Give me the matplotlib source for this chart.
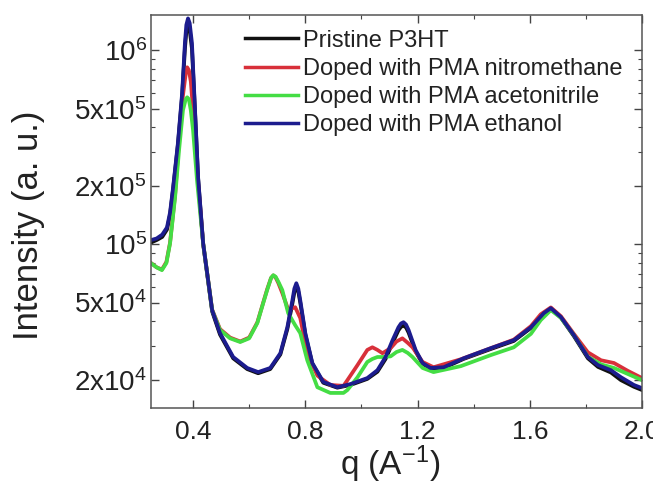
import matplotlib
matplotlib.use("Agg")
import matplotlib.pyplot as plt
from matplotlib.ticker import FixedLocator, NullFormatter, LogLocator, MultipleLocator

plt.rcParams['font.family'] = ['Liberation Sans', 'DejaVu Sans']
plt.rcParams['mathtext.fontset'] = 'custom'
plt.rcParams['mathtext.rm'] = 'Liberation Sans'
plt.rcParams['mathtext.it'] = 'Liberation Sans:italic'

# q grid for the pristine / ethanol scans
q_a = [0.25, 0.27, 0.29, 0.307, 0.318, 0.329, 0.346, 0.361, 0.371, 0.376, 0.382, 0.388,
       0.396, 0.407, 0.418, 0.436, 0.468, 0.496, 0.543, 0.593, 0.632, 0.675,
       0.711, 0.736, 0.754, 0.761, 0.768, 0.775, 0.782, 0.800, 0.825, 0.864,
       0.914, 0.961, 1.021, 1.057, 1.086, 1.111, 1.132, 1.141, 1.150, 1.159,
       1.168, 1.193, 1.218, 1.246, 1.293, 1.364, 1.461, 1.543, 1.604, 1.650,
       1.675, 1.711, 1.757, 1.807, 1.843, 1.889, 1.925, 1.971, 2.0]

# q grid for the nitromethane / acetonitrile scans
q_b = [0.25, 0.27, 0.289, 0.305, 0.318, 0.336, 0.35, 0.364, 0.374, 0.379,
       0.385, 0.392, 0.40, 0.414, 0.436, 0.468, 0.496, 0.532, 0.568, 0.60,
       0.629, 0.65, 0.664, 0.678, 0.686, 0.694, 0.704, 0.718, 0.739, 0.764,
       0.782, 0.807, 0.843, 0.889, 0.936, 0.95, 0.986, 1.021, 1.039, 1.057,
       1.075, 1.104, 1.125, 1.146, 1.165, 1.182, 1.218, 1.257, 1.354, 1.461,
       1.543, 1.604, 1.639, 1.675, 1.711, 1.757, 1.807, 1.854, 1.90, 1.95, 2.0]

i_pristine = [1.02e5, 1.05e5, 1.09e5, 1.19e5, 1.42e5, 1.93e5, 3.25e5, 5.8e5, 1.02e6, 1.25e6, 1.34e6, 1.27e6,
              1.02e6, 4.8e5, 2.18e5, 1.0e5, 4.5e4, 3.42e4, 2.58e4, 2.27e4, 2.16e4, 2.27e4,
              2.7e4, 3.65e4, 4.95e4, 5.65e4, 6.0e4, 5.7e4, 5.0e4, 3.42e4, 2.42e4, 1.93e4,
              1.82e4, 1.88e4, 2.02e4, 2.2e4, 2.56e4, 3.1e4, 3.6e4, 3.75e4, 3.8e4, 3.72e4,
              3.5e4, 2.8e4, 2.42e4, 2.28e4, 2.3e4, 2.56e4, 2.88e4, 3.17e4, 3.7e4, 4.38e4,
              4.65e4, 4.18e4, 3.36e4, 2.58e4, 2.33e4, 2.18e4, 1.99e4, 1.84e4, 1.77e4]

i_ethanol = [1.05e5, 1.07e5, 1.12e5, 1.22e5, 1.46e5, 1.97e5, 3.32e5, 6.0e5, 1.09e6, 1.35e6, 1.46e6, 1.38e6,
             1.09e6, 4.91e5, 2.21e5, 1.01e5, 4.57e4, 3.48e4, 2.62e4, 2.30e4, 2.19e4, 2.30e4,
             2.74e4, 3.73e4, 5.14e4, 5.9e4, 6.29e4, 5.9e4, 5.14e4, 3.48e4, 2.44e4, 1.95e4,
             1.83e4, 1.90e4, 2.04e4, 2.24e4, 2.62e4, 3.20e4, 3.73e4, 3.9e4, 3.96e4, 3.85e4,
             3.61e4, 2.85e4, 2.44e4, 2.30e4, 2.32e4, 2.58e4, 2.91e4, 3.20e4, 3.73e4, 4.41e4,
             4.68e4, 4.21e4, 3.40e4, 2.62e4, 2.38e4, 2.24e4, 2.06e4, 1.88e4, 1.81e4]

i_nitromethane = [8.0e4, 7.6e4, 7.4e4, 8.1e4, 1.02e5, 1.8e5, 3.43e5, 5.86e5, 7.6e5, 8.17e5,
                  7.9e5, 6.9e5, 4.91e5, 2.41e5, 1.01e5, 4.6e4, 3.65e4, 3.3e4, 3.15e4, 3.3e4,
                  3.95e4, 5.0e4, 5.85e4, 6.7e4, 6.9e4, 6.75e4, 6.3e4, 5.6e4, 4.6e4, 4.73e4,
                  4.16e4, 2.75e4, 2.1e4, 1.88e4, 1.86e4, 1.99e4, 2.38e4, 2.85e4, 2.94e4, 2.85e4,
                  2.74e4, 2.91e4, 3.15e4, 3.27e4, 3.1e4, 2.94e4, 2.47e4, 2.32e4, 2.55e4, 2.91e4,
                  3.22e4, 3.78e4, 4.35e4, 4.72e4, 4.25e4, 3.45e4, 2.77e4, 2.52e4, 2.44e4, 2.22e4,
                  2.04e4]

i_acetonitrile = [7.98e4, 7.6e4, 7.35e4, 8.0e4, 1.01e5, 1.75e5, 3.05e5, 4.91e5, 5.6e5, 5.72e5,
                  5.6e5, 4.9e5, 3.87e5, 2.14e5, 1.01e5, 4.57e4, 3.61e4, 3.27e4, 3.13e4, 3.27e4,
                  3.92e4, 4.97e4, 5.80e4, 6.7e4, 6.92e4, 6.8e4, 6.4e4, 5.80e4, 4.41e4, 3.82e4,
                  3.48e4, 2.52e4, 1.83e4, 1.71e4, 1.71e4, 1.77e4, 2.06e4, 2.47e4, 2.56e4, 2.62e4,
                  2.62e4, 2.64e4, 2.78e4, 2.85e4, 2.75e4, 2.62e4, 2.30e4, 2.19e4, 2.35e4, 2.68e4,
                  2.94e4, 3.45e4, 4.06e4, 4.57e4, 4.17e4, 3.40e4, 2.63e4, 2.40e4, 2.30e4, 2.14e4,
                  1.99e4]

labels = ['Pristine P3HT', 'Doped with PMA nitromethane',
          'Doped with PMA acetonitrile', 'Doped with PMA ethanol']
colors = ['#111111', '#d8303a', '#44dd44', '#1c1c8e']

ytick_vals = [2e4, 5e4, 1e5, 2e5, 5e5, 1e6]
ytick_labels = ['2x10$^4$', '5x10$^4$', '10$^5$', '2x10$^5$', '5x10$^5$', '10$^6$']

fig = plt.figure(figsize=(6.53, 4.94), dpi=100)
ax = fig.add_axes([0.2312, 0.1741, 0.752, 0.7955])

lw = 2.7
ax.plot(q_a, i_pristine, color=colors[0], lw=lw, label=labels[0])
ax.plot(q_b, i_nitromethane, color=colors[1], lw=lw, label=labels[1])
ax.plot(q_b, i_acetonitrile, color=colors[2], lw=lw, label=labels[2])
ax.plot(q_a, i_ethanol, color=colors[3], lw=lw, label=labels[3])

ax.set_yscale('log')
ax.set_xlim(0.25, 2.0)
ax.set_ylim(1.43e4, 1.52e6)

ax.yaxis.set_major_locator(FixedLocator(ytick_vals))
ax.set_yticklabels(ytick_labels)
ax.yaxis.set_minor_locator(LogLocator(base=10, subs=range(2, 10)))
ax.yaxis.set_minor_formatter(NullFormatter())
ax.xaxis.set_minor_locator(MultipleLocator(0.2))
ax.set_xticks([0.4, 0.8, 1.2, 1.6, 2.0])
ax.set_xticklabels(['0.4', '0.8', '1.2', '1.6', '2.0'])

ax.tick_params(which='both', direction='in', top=True, right=True, colors='#444444',
               labelcolor='#222222')
ax.tick_params(which='major', length=6, width=1)
ax.tick_params(which='minor', length=3, width=0.8)
ax.tick_params(axis='y', which='major', labelsize=20, pad=3)
ax.tick_params(axis='x', which='major', labelsize=19, pad=9)
for sp in ax.spines.values():
    sp.set_color('#555555')
    sp.set_linewidth(1.1)

ax.set_xlabel('q (A$^{-1}$)', fontsize=24, color='#222222')
ax.set_ylabel('Intensity (a. u.)', fontsize=25, color='#222222')
ax.xaxis.set_label_coords(0.487, -0.09)
ax.yaxis.set_label_coords(-0.216, 0.466)

leg = ax.legend(loc='upper left', bbox_to_anchor=(0.375, 0.94),
                bbox_transform=fig.transFigure, frameon=False, fontsize=17,
                handlelength=2.25, handletextpad=0.2, labelspacing=0.26,
                borderpad=0, borderaxespad=0)
for line in leg.get_lines():
    line.set_linewidth(2.5)
for t in leg.get_texts():
    t.set_color('#222222')

fig.savefig('out.png', dpi=100)
